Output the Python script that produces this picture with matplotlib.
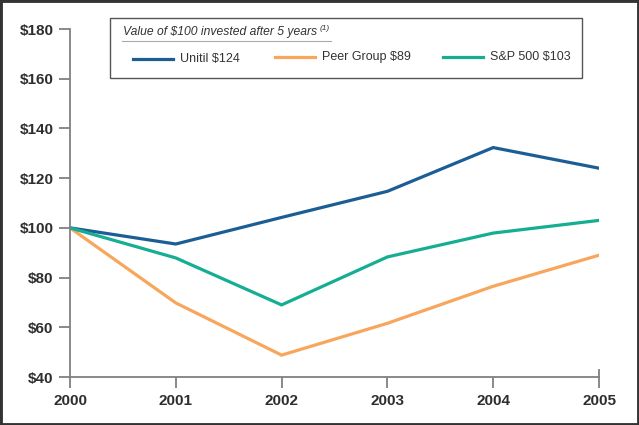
import matplotlib.pyplot as plt
from matplotlib.patches import Rectangle
from matplotlib.lines import Line2D

plt.rcParams['font.family'] = ['Liberation Sans', 'DejaVu Sans']

# Данные
years = [2000, 2001, 2002, 2003, 2004, 2005]
unitil = [100, 93.5, 104.2, 114.7, 132.3, 124]
peer = [100, 69.8, 48.8, 61.6, 76.5, 89]
sp500 = [100, 87.9, 69.0, 88.3, 97.9, 103]

series_names = ['Unitil $124', 'Peer Group $89', 'S&P 500 $103']
colors = ['#1b5e96', '#f7a65c', '#16ae93']
y_ticks = [40, 60, 80, 100, 120, 140, 160, 180]
y_labels = ['$' + str(v) for v in y_ticks]

fig = plt.figure(figsize=(6.39, 4.25), dpi=100)
ax = fig.add_axes([70 / 639, 1 - 377 / 425, 529 / 639, 348 / 425])

for vals, c in zip([unitil, peer, sp500], colors):
    ax.plot(years, vals, color=c, linewidth=2.3, solid_joinstyle='miter')

ax.set_xlim(2000, 2005)
ax.set_ylim(40, 180)
ax.set_xticks(years)
ax.set_yticks(y_ticks)
ax.set_yticklabels(y_labels)

for s in ['top', 'right']:
    ax.spines[s].set_visible(False)
for s in ['left', 'bottom']:
    ax.spines[s].set_color('#808080')
    ax.spines[s].set_linewidth(1.3)
ax.tick_params(colors='#808080', width=1.3, length=8, labelcolor='#2e2e2e',
               labelsize=11, pad=4)
for lab in ax.get_xticklabels() + ax.get_yticklabels():
    lab.set_fontweight('bold')
# тик справа на 2005
ax.plot([2005, 2005], [40, 43], color='#808080', linewidth=1.3, clip_on=False)

# Легенда вручную
W, H = 639, 425
def fx(x):
    return x / W
def fy(y):
    return 1 - y / H

fig.add_artist(Rectangle((fx(110), fy(78)), fx(582 - 110), 60 / H,
                         transform=fig.transFigure, fill=False,
                         edgecolor='#555555', linewidth=1.0))
fig.text(fx(123), fy(32), 'Value of $100 invested after 5 years', fontsize=8.7,
         style='italic', color='#333333', va='center')
fig.text(fx(320), fy(28), '(1)', fontsize=6, style='italic', color='#333333', va='center')
fig.add_artist(Line2D([fx(122), fx(331)], [fy(41), fy(41)], color='#aaaaaa',
                      linewidth=0.8, transform=fig.transFigure))
legend_x = [133, 275, 443]
legend_y = [59, 57, 57]
for x0, y0, c, name in zip(legend_x, legend_y, colors, series_names):
    fig.add_artist(Line2D([fx(x0), fx(x0 + 40)], [fy(y0), fy(y0)], color=c,
                          linewidth=2.3, transform=fig.transFigure))
    fig.text(fx(x0 + 47), fy(y0), name, fontsize=9, color='#333333', va='center')

# Рамка вокруг рисунка
fig.add_artist(Rectangle((0, 0), 1, 1, transform=fig.transFigure, fill=False,
                         edgecolor='#333333', linewidth=3.5))

fig.savefig('out.png', dpi=100)
